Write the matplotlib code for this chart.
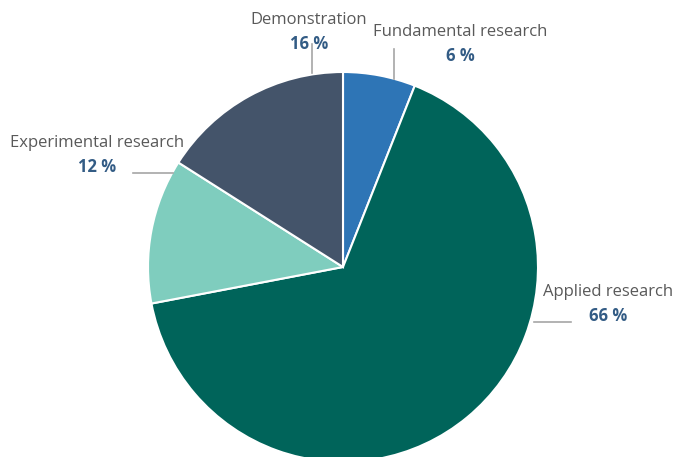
import matplotlib.pyplot as plt

# data
labels = ['Fundamental research', 'Applied research', 'Experimental research', 'Demonstration']
shares = [6, 66, 12, 16]
colors = ['#2E75B6', '#00645A', '#7FCDBE', '#44546A']

# label layout in pixel coords (x, y from top): text centre, leader line
label_xy = [(460, 32), (608, 292), (97, 143), (309, 20)]
leaders = [((394, 394), (49, 79)), ((534, 571), (322, 322)),
           ((133, 173), (173, 173)), ((312, 312), (44, 73))]

W, H = 678, 457
fig = plt.figure(figsize=(W / 100, H / 100), dpi=100)
ax = fig.add_axes([0, 0, 1, 1])

ax.pie(shares, colors=colors, startangle=90, counterclock=False,
       center=(343, H - 267), radius=195,
       wedgeprops=dict(edgecolor='white', linewidth=1.5))
ax.set_xlim(0, W)
ax.set_ylim(0, H)
ax.set_aspect('equal')
ax.axis('off')

for lab, val, (tx, ty), (lx, ly) in zip(labels, shares, label_xy, leaders):
    ax.plot(lx, [H - y for y in ly], color='#A6A6A6', lw=1.2)
    ax.text(tx, H - ty, lab, ha='center', va='center', fontsize=12,
            family='Open Sans', color='#595959')
    ax.text(tx, H - ty - 24, f'{val} %', ha='center', va='center', fontsize=12,
            family='Open Sans', fontweight='bold', color='#335C85')

fig.savefig('out.png', dpi=100)
